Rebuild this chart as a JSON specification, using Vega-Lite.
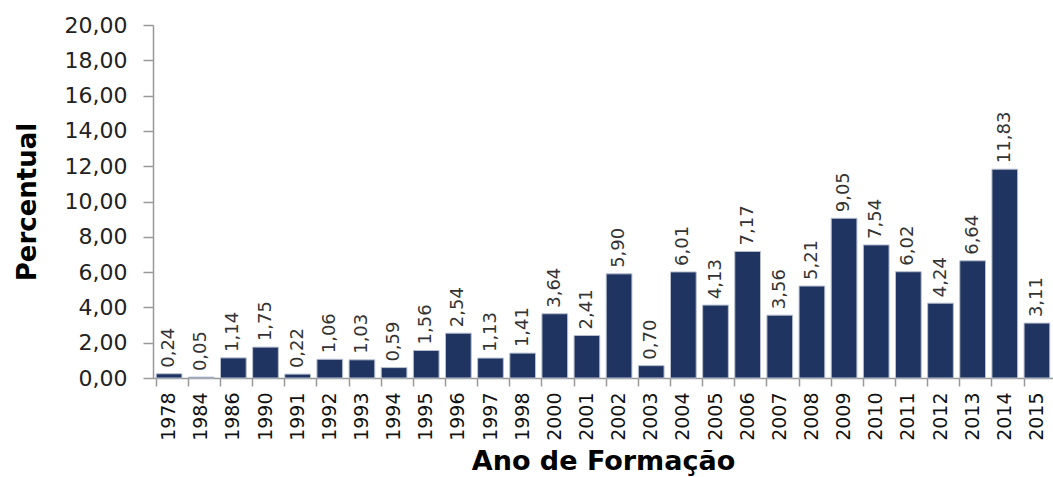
{
  "$schema": "https://vega.github.io/schema/vega-lite/v6.json",
  "autosize": {"type": "none"},
  "padding": {"left": 153, "top": 25, "right": 0, "bottom": 99},
  "width": 900,
  "height": 353,
  "background": "white",
  "config": {
    "view": {"stroke": null},
    "locale": {"number": {"decimal": ",", "thousands": ".", "grouping": [3], "currency": ["R$", ""]}},
    "font": "DejaVu Sans"
  },
  "data": {
    "values": [
      {"ano": "1978", "pct": 0.24},
      {"ano": "1984", "pct": 0.05},
      {"ano": "1986", "pct": 1.14},
      {"ano": "1990", "pct": 1.75},
      {"ano": "1991", "pct": 0.22},
      {"ano": "1992", "pct": 1.06},
      {"ano": "1993", "pct": 1.03},
      {"ano": "1994", "pct": 0.59},
      {"ano": "1995", "pct": 1.56},
      {"ano": "1996", "pct": 2.54},
      {"ano": "1997", "pct": 1.13},
      {"ano": "1998", "pct": 1.41},
      {"ano": "2000", "pct": 3.64},
      {"ano": "2001", "pct": 2.41},
      {"ano": "2002", "pct": 5.90},
      {"ano": "2003", "pct": 0.70},
      {"ano": "2004", "pct": 6.01},
      {"ano": "2005", "pct": 4.13},
      {"ano": "2006", "pct": 7.17},
      {"ano": "2007", "pct": 3.56},
      {"ano": "2008", "pct": 5.21},
      {"ano": "2009", "pct": 9.05},
      {"ano": "2010", "pct": 7.54},
      {"ano": "2011", "pct": 6.02},
      {"ano": "2012", "pct": 4.24},
      {"ano": "2013", "pct": 6.64},
      {"ano": "2014", "pct": 11.83},
      {"ano": "2015", "pct": 3.11}
    ]
  },
  "encoding": {
    "x": {
      "field": "ano", "type": "ordinal", "sort": null,
      "scale": {"paddingInner": 0.2, "paddingOuter": 0.1},
      "axis": {
        "title": "Ano de Formação",
        "titleFont": "DejaVu Sans", "titleFontSize": 27, "titleFontWeight": "bold", "titleColor": "#000",
        "titlePadding": 8,
        "labelAngle": -90, "labelFontSize": 19, "labelColor": "#111", "labelPadding": 6,
        "labelAlign": "right", "labelBaseline": "middle",
        "bandPosition": 0, "ticks": true, "tickSize": 8, "tickColor": "#999", "tickWidth": 1.5,
        "domainColor": "#999", "domainWidth": 1.5, "grid": false
      }
    },
    "y": {
      "field": "pct", "type": "quantitative",
      "scale": {"domain": [0, 20], "nice": false},
      "axis": {
        "title": "Percentual",
        "titleFont": "DejaVu Sans", "titleFontSize": 26, "titleFontWeight": "bold", "titleColor": "#000",
        "titlePadding": 24,
        "values": [0, 2, 4, 6, 8, 10, 12, 14, 16, 18, 20],
        "format": ".2f",
        "labelFontSize": 22, "labelColor": "#222", "labelPadding": 16,
        "tickSize": 10, "tickColor": "#999", "tickWidth": 1.5,
        "domainColor": "#999", "domainWidth": 1.5, "grid": false
      }
    }
  },
  "layer": [
    {
      "mark": {"type": "bar", "color": "#1f3461", "stroke": "#b8c0d0", "strokeWidth": 1}
    },
    {
      "mark": {"type": "text", "angle": 270, "align": "left", "baseline": "middle", "dx": 6, "fontSize": 18, "color": "#333"},
      "encoding": {
        "text": {"field": "pct", "type": "quantitative", "format": ".2f"}
      }
    }
  ]
}
